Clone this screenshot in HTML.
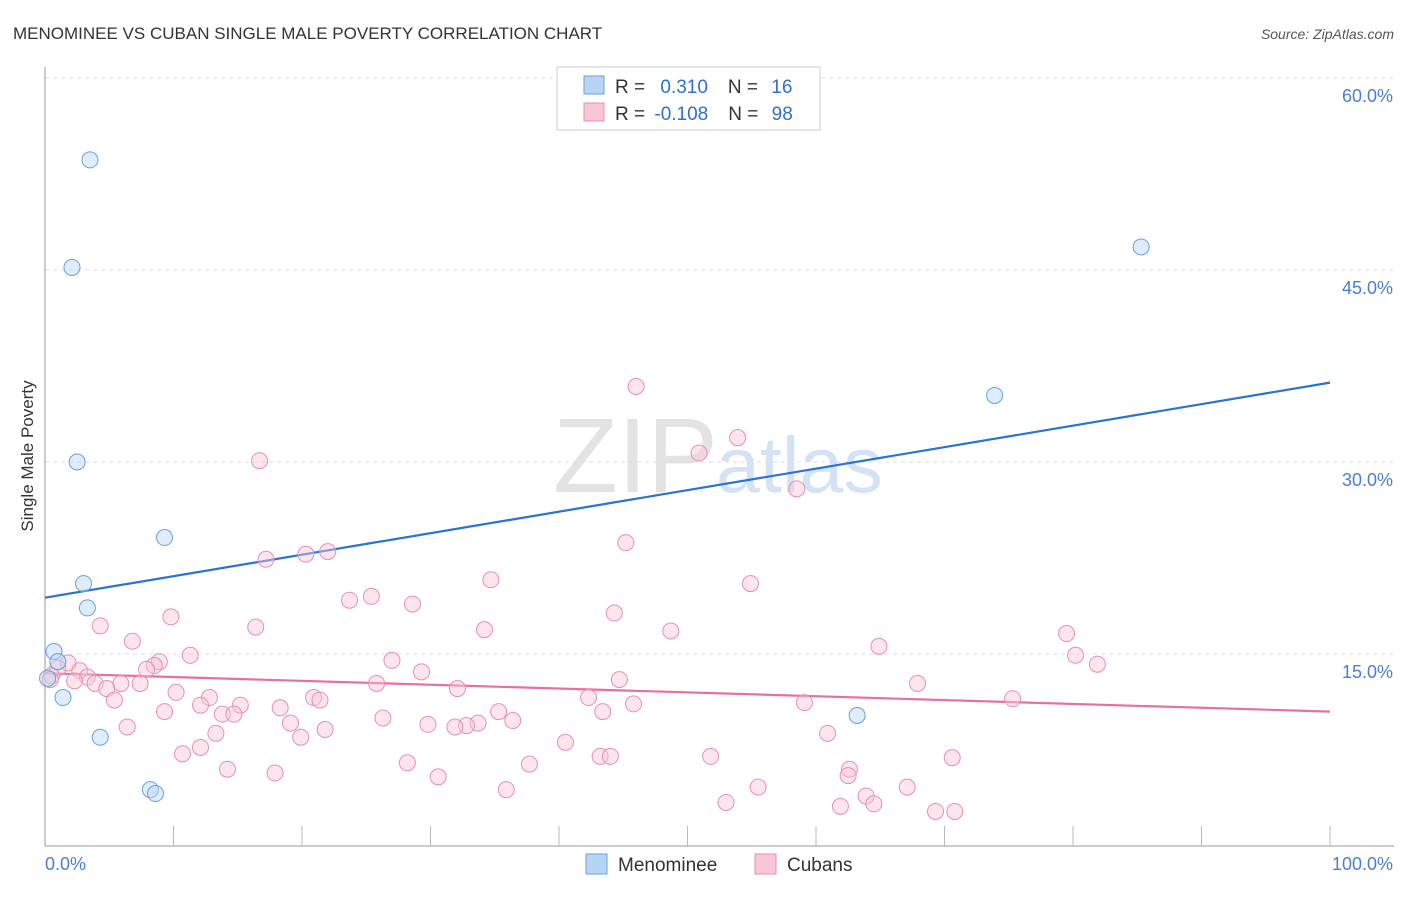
<!DOCTYPE html>
<html><head><meta charset="utf-8"><style>
body{margin:0;background:#fff;font-family:"Liberation Sans",sans-serif;}
svg text{font-family:"Liberation Sans",sans-serif;}
</style></head><body>
<svg id="chart" width="1406" height="892" xmlns="http://www.w3.org/2000/svg">
<text x="13" y="39" font-size="17" fill="#333">MENOMINEE VS CUBAN SINGLE MALE POVERTY CORRELATION CHART</text>
<text x="1394" y="39" font-size="14" fill="#555" text-anchor="end" font-style="italic">Source: ZipAtlas.com</text>
<text x="553" y="492" font-size="106" fill="#ddd" font-family="Liberation Serif" opacity="0.8">ZIP</text>
<text x="716" y="492" font-size="79" fill="#c9dcf3" opacity="0.8">atlas</text>
<g id="grid"></g><g id="axes"></g><g id="lines"></g><g id="pts"></g>
<text transform="translate(33,456) rotate(-90)" font-size="17" fill="#333" text-anchor="middle">Single Male Poverty</text>
<g>
<rect x="557" y="67" width="263" height="63" fill="#fff" stroke="#ccc"/>
<rect x="584" y="76" width="20" height="18" fill="#b8d4f4" stroke="#6a9fe0"/>
<rect x="584" y="103" width="20" height="18" fill="#f8c6d6" stroke="#e890b0"/>
<text x="615" y="93" font-size="19" fill="#333">R = <tspan fill="#2f6fd0" dx="10">0.310</tspan><tspan fill="#333" dx="20">N = </tspan><tspan fill="#2f6fd0" dx="8">16</tspan></text>
<text x="615" y="120" font-size="19" fill="#333">R = <tspan fill="#2f6fd0" dx="4">-0.108</tspan><tspan fill="#333" dx="20">N = </tspan><tspan fill="#2f6fd0" dx="8">98</tspan></text>
</g>
<g>
<rect x="586" y="854" width="21" height="20" fill="#b8d4f4" stroke="#6a9fe0"/>
<text x="618" y="871" font-size="19" fill="#333">Menominee</text>
<rect x="755" y="854" width="21" height="20" fill="#f8c6d6" stroke="#e890b0"/>
<text x="787" y="871" font-size="19" fill="#333">Cubans</text>
</g>
</svg>
<script>
const yTicks=[15,30,45,60];
const yTickLabels=["15.0%","30.0%","45.0%","60.0%"];
const xTickLabels=["0.0%","100.0%"];
const menomineeX=[3.5,2.1,2.5,9.3,3.0,3.3,0.7,1.0,0.2,1.4,4.3,8.2,8.6,63.2,73.9,85.3];
const menomineeY=[53.6,45.2,30.0,24.1,20.5,18.6,15.2,14.4,13.1,11.6,8.5,4.4,4.1,10.2,35.2,46.8];
const cubansX=[46.0,53.9,50.9,16.7,58.5,45.2,22.0,20.3,17.2,34.7,54.9,23.7,25.4,28.6,44.3,9.8,4.3,16.4,34.2,48.7,6.8,79.5,64.9,11.3,80.2,81.9,27.0,8.9,8.5,7.9,1.8,1.0,2.7,0.5,0.4,3.3,2.3,3.9,29.3,7.4,5.9,44.7,25.8,32.1,67.9,4.8,10.2,12.8,5.4,12.1,15.2,20.9,21.4,18.3,42.3,75.3,45.8,43.4,35.3,9.3,13.8,14.7,26.3,59.1,36.4,19.1,29.8,33.7,32.8,31.9,6.4,21.8,13.3,19.9,60.9,40.5,12.1,10.7,51.8,43.2,44.0,70.6,28.2,37.7,14.2,62.6,17.9,62.5,30.6,55.5,35.9,67.1,63.9,53.0,64.5,61.9,69.3,70.8];
const cubansY=[35.9,31.9,30.7,30.1,27.9,23.7,23.0,22.8,22.4,20.8,20.5,19.2,19.5,18.9,18.2,17.9,17.2,17.1,16.9,16.8,16.0,16.6,15.6,14.9,14.9,14.2,14.5,14.4,14.1,13.8,14.3,13.9,13.7,13.3,13.0,13.2,12.9,12.7,13.6,12.7,12.7,13.0,12.7,12.3,12.7,12.3,12.0,11.6,11.4,11.0,11.0,11.6,11.4,10.8,11.6,11.5,11.1,10.5,10.5,10.5,10.3,10.3,10.0,11.2,9.8,9.6,9.5,9.6,9.4,9.3,9.3,9.1,8.8,8.5,8.8,8.1,7.7,7.2,7.0,7.0,7.0,6.9,6.5,6.4,6.0,6.0,5.7,5.5,5.4,4.6,4.4,4.6,3.9,3.4,3.3,3.1,2.7,2.7];
const blueTrend=[19.4,36.2];
const pinkTrend=[13.5,10.5];
const NS="http://www.w3.org/2000/svg";
const X=v=>45+v*12.85, Y=v=>846-v*12.8;
function mk(tag,parent,attrs){const e=document.createElementNS(NS,tag);for(const k in attrs)e.setAttribute(k,attrs[k]);document.getElementById(parent).appendChild(e);return e;}
yTicks.forEach((t,i)=>{
 const l=mk('line','grid',{x1:45,x2:1394,y1:Y(t),y2:Y(t),stroke:'#ddd','stroke-dasharray':'4,4'});
 
 
 const tx=mk('text','grid',{x:1393,y:Y(t)+24,'font-size':18,fill:'#4a7fd4','text-anchor':'end'});
 tx.textContent=yTickLabels[i];
 
 
});
let ax=mk('line','axes',{x1:45,x2:45,y1:67,y2:846,stroke:'#999'});


ax=mk('line','axes',{x1:45,x2:1394,y1:846,y2:846,stroke:'#999'});


for(let i=1;i<=10;i++){const t=mk('line','axes',{x1:X(i*10),x2:X(i*10),y1:826,y2:846,stroke:'#bbb'});
 
 }
[[0,'start',45],[100,'end',1393]].forEach((d,i)=>{const t=mk('text','axes',{x:d[2],y:870,'font-size':18,fill:'#4a7fd4','text-anchor':d[1]});t.textContent=xTickLabels[i];
 
 });
function pts(xs,ys,fill,stroke,name){xs.forEach((x,i)=>{const c=mk('circle','pts',{cx:X(x),cy:Y(ys[i]),r:8,fill:fill,'fill-opacity':0.45,stroke:stroke,'stroke-width':1});
 
 });}
pts(cubansX,cubansY,'#f8c6d6','#e890b0','cubans-point');
pts(menomineeX,menomineeY,'#b8d4f4','#6a9fe0','menominee-point');
let tl=mk('line','lines',{x1:X(0),x2:X(100),y1:Y(blueTrend[0]),y2:Y(blueTrend[1]),stroke:'#2a72d6','stroke-width':2.2});


tl=mk('line','lines',{x1:X(0),x2:X(100),y1:Y(pinkTrend[0]),y2:Y(pinkTrend[1]),stroke:'#e8709a','stroke-width':2.2});


</script>
</body></html>
